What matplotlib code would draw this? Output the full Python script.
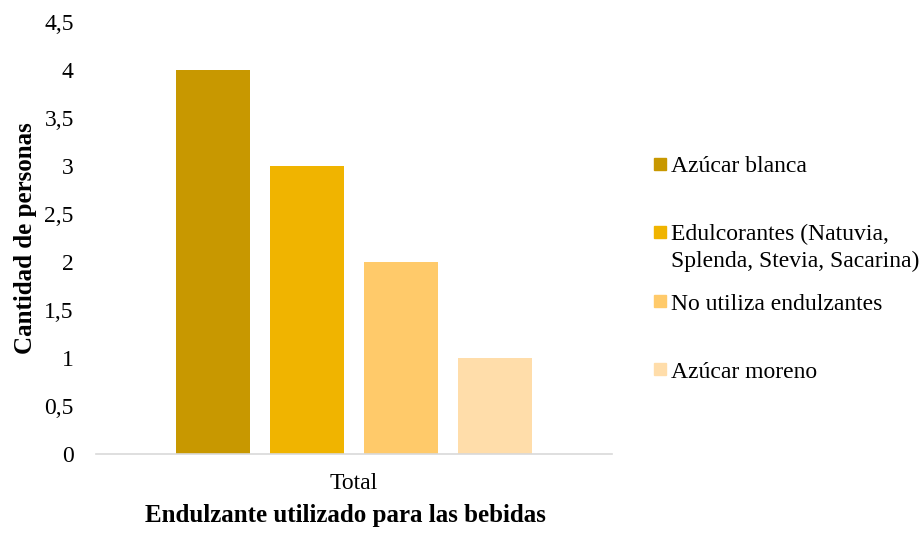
import matplotlib.pyplot as plt
from matplotlib.patches import Rectangle

plt.rcParams['font.family'] = ['Liberation Serif', 'DejaVu Serif']

categories = ["Azúcar blanca",
              "Edulcorantes (Natuvia,\nSplenda, Stevia, Sacarina)",
              "No utiliza endulzantes",
              "Azúcar moreno"]
values = [4, 3, 2, 1]
colors = ["#C89800", "#F0B400", "#FFCA6A", "#FFDDAA"]
yticks = [0, 0.5, 1, 1.5, 2, 2.5, 3, 3.5, 4, 4.5]
ytick_labels = ["0", "0,5", "1", "1,5", "2", "2,5", "3", "3,5", "4", "4,5"]

fig = plt.figure(figsize=(9.24, 5.33), dpi=100)
ax = fig.add_axes([96 / 924, 1 - 454 / 533, 516 / 924, 432 / 533])

step = 94 / 516
width = 74 / 516
for i, (v, c) in enumerate(zip(values, colors)):
    ax.bar(0.5 + (i - 1.5) * step, v, width=width, color=c)

ax.set_xlim(0, 1)
ax.set_ylim(0, 4.5)
ax.set_yticks(yticks)
ax.set_yticklabels(ytick_labels)
ax.set_xticks([0.5])
ax.set_xticklabels(["Total"])
ax.tick_params(axis='both', length=0, labelsize=17)
ax.tick_params(axis='y', pad=16)
ax.tick_params(axis='x', pad=14)
for s in ['top', 'right', 'left']:
    ax.spines[s].set_visible(False)
ax.spines['bottom'].set_color('#D9D9D9')
ax.spines['bottom'].set_linewidth(1.2)

ax.set_ylabel("Cantidad de personas", fontsize=18, fontweight='bold', labelpad=5)
ax.set_xlabel("Endulzante utilizado para las bebidas", fontsize=18,
              fontweight='bold', labelpad=7)
ax.xaxis.label.set_x((345 - 96) / 516)

# legend drawn by hand to keep Excel-like spacing
legend_y = [164, 232, 301, 369]
for lab, c, yp in zip(categories, colors, legend_y):
    fig.add_artist(Rectangle((654 / 924, 1 - (yp + 6) / 533), 12 / 924, 12 / 533,
                             color=c, transform=fig.transFigure))
    for k, line in enumerate(lab.split("\n")):
        fig.text(671 / 924, 1 - (yp + 8.5 + 27 * k) / 533, line, fontsize=17,
                 va='baseline', ha='left')

fig.savefig("out.png", dpi=100)
